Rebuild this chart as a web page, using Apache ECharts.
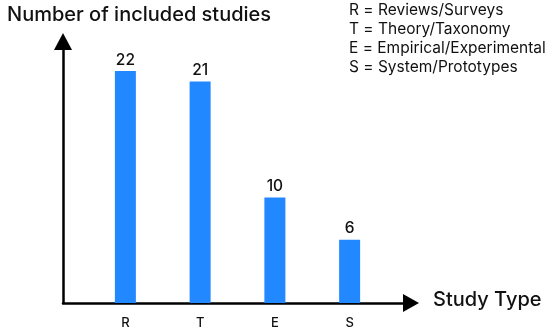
<!DOCTYPE html>
<html><head><meta charset="utf-8">
<script src="https://cdn.jsdelivr.net/npm/echarts@6/dist/echarts.min.js"></script>
<style>html,body{margin:0;padding:0;background:#fff}#c{width:550px;height:333px}</style>
</head><body><div id="c"></div>
<script>
const categories = ['R', 'T', 'E', 'S'];
const studyCounts = [22, 21, 10, 6];
const legendLines = ['R = Reviews/Surveys', 'T = Theory/Taxonomy', 'E = Empirical/Experimental', 'S = System/Prototypes'];
const yTitle = 'Number of included studies';
const xTitle = 'Study Type';

const FONT = 'Inter';
const chart = echarts.init(document.getElementById('c'));
chart.setOption({
  backgroundColor: '#fff',
  animation: false,
  textStyle: { fontFamily: FONT },
  title: {
    text: yTitle, left: 2, top: 0,
    textStyle: { fontFamily: FONT, fontSize: 20, fontWeight: 500, color: '#111' }
  },
  graphic: [
    { type: 'text', left: 349, top: 1,
      style: { text: legendLines.join('\n'), fontFamily: FONT, fontSize: 15.5, lineHeight: 19, fill: '#111' } },
    { type: 'text', left: 433, top: 290,
      style: { text: xTitle, fontFamily: FONT, fontSize: 20, fontWeight: 500, fill: '#111' } }
  ],
  grid: [
    { left: 88, right: 163, top: 41.5, bottom: 30 },
    { left: 63, right: 139, top: 41.5, bottom: 30 }
  ],
  xAxis: [
    { type: 'category', gridIndex: 0, data: categories,
      axisLine: { show: false }, axisTick: { show: false },
      axisLabel: { margin: 14, fontSize: 13, fontWeight: 500, color: '#111', fontFamily: FONT } },
    { type: 'value', gridIndex: 1, min: 0, max: 1,
      axisLine: { show: true, onZero: false, symbol: ['none', 'triangle'], symbolSize: [18, 16],
        lineStyle: { color: '#000', width: 2.5 } },
      axisTick: { show: false }, axisLabel: { show: false }, splitLine: { show: false } }
  ],
  yAxis: [
    { type: 'value', gridIndex: 0, min: 0, max: 24.8, offset: 25,
      axisLine: { show: true, symbol: ['none', 'triangle'], symbolSize: [18, 17],
        lineStyle: { color: '#000', width: 2.5 } },
      axisTick: { show: false }, axisLabel: { show: false }, splitLine: { show: false } },
    { type: 'value', gridIndex: 1, min: 0, max: 1, show: false }
  ],
  series: [{
    type: 'bar', xAxisIndex: 0, yAxisIndex: 0,
    data: studyCounts, barWidth: 21,
    itemStyle: { color: '#2288ff' },
    label: { show: true, position: 'top', distance: 3, fontSize: 15.5, fontWeight: 500, color: '#111', fontFamily: FONT }
  }]
});
</script></body></html>
